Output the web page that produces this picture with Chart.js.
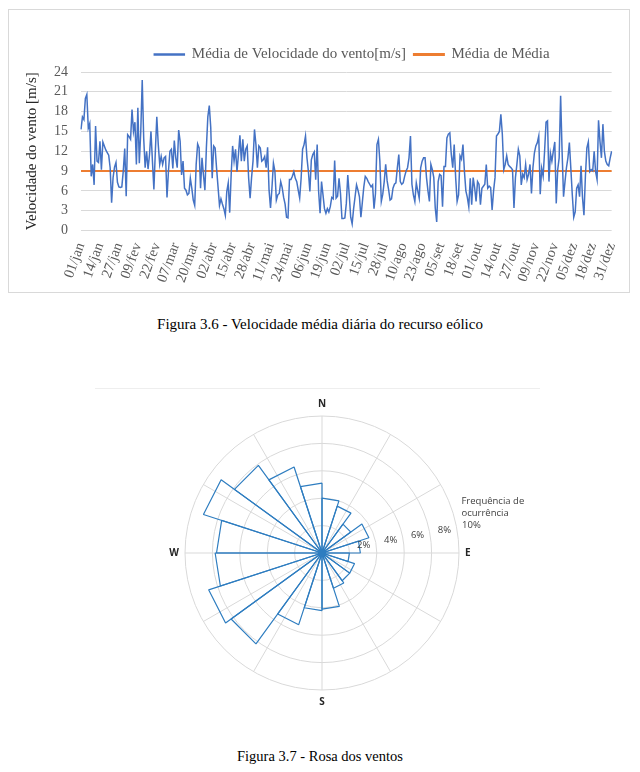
<!DOCTYPE html>
<html lang="pt">
<head>
<meta charset="utf-8">
<title>Recurso eólico</title>
<script src="https://cdn.jsdelivr.net/npm/chart.js@4.4.1/dist/chart.umd.min.js"></script>
<style>
  body { margin: 0; background: #fff; width: 640px; height: 772px; position: relative; overflow: hidden; }
  #caixa { position: absolute; left: 8px; top: 9px; width: 620px; height: 282px; border: 1px solid #d9d9d9; }
  #graficoVelocidade { position: absolute; left: 8px; top: 9px; }
  .legenda { position: absolute; left: 0; width: 640px; text-align: center; line-height: 16px;
             font-family: 'Liberation Serif', 'Times New Roman', serif; font-size: 14.5px; color: #000; }
  #linhaTopo { position: absolute; left: 95px; top: 388px; width: 445px; border-top: 1px solid #eeeeee; }
  #graficoRosa { position: absolute; left: 97px; top: 388px; }
</style>
</head>
<body>
<div id="caixa"></div>
<canvas id="graficoVelocidade" width="622" height="284"></canvas>
<div class="legenda" style="top:316px; font-size:15px">Figura 3.6 - Velocidade média diária do recurso eólico</div>
<div id="linhaTopo"></div>
<canvas id="graficoRosa" width="450" height="330"></canvas>
<div class="legenda" style="top:748px">Figura 3.7 - Rosa dos ventos</div>

<script>
// velocidade média diária [m/s], um array por mês
const velJan = [15.3,17.2,16.8,20.0,20.6,15.5,16.2,8.2,10.0,6.9,15.8,10.5,10.3,13.5,9.2,13.4,12.8,12.2,11.8,11.4,9.5,4.2,8.0,9.6,10.3,7.3,6.6,6.5,6.6,9.0,12.4];
const velFev = [5.2,14.5,14.2,13.8,18.3,15.0,16.4,10.0,18.6,10.2,15.0,22.8,14.0,9.5,12.0,9.3,11.5,15.0,10.5,6.2,12.0,17.2,13.0,10.0,11.2,10.0,11.0,11.2];
const velMar = [5.0,9.0,12.0,12.3,9.4,13.6,11.0,9.5,15.2,13.5,8.4,10.5,6.4,6.1,5.4,5.6,7.9,6.4,4.6,3.8,10.0,13.1,12.5,6.4,11.0,8.4,6.1,12.5,17.2,18.9,15.6];
const velAbr = [7.9,12.8,12.5,9.4,6.6,3.8,4.8,4.0,3.3,2.3,5.9,7.2,2.7,8.4,12.8,10.5,12.3,8.9,11.5,14.4,10.5,13.8,10.5,12.3,12.8,7.9,4.9,8.0,10.5,15.3];
const velMai = [13.0,9.5,12.8,12.5,10.5,10.7,11.2,9.5,12.6,6.1,3.4,6.5,10.2,9.0,4.6,5.4,5.6,7.4,6.5,5.0,4.0,2.0,1.9,7.7,7.7,8.2,8.9,7.9,7.4,6.1,4.9];
const velJun = [7.9,12.3,13.0,14.3,11.0,8.9,5.9,10.7,11.5,11.9,7.7,13.0,5.9,2.6,7.4,5.4,3.3,2.6,3.3,2.8,3.6,5.0,4.8,10.6,4.9,5.2,7.9,5.6,1.8,1.8];
const velJul = [1.9,4.1,8.4,5.4,2.0,1.0,3.3,5.1,6.9,6.1,5.1,2.0,4.3,6.6,8.2,7.9,7.4,7.0,6.6,6.9,3.3,5.6,13.0,13.8,10.5,4.4,5.5,7.4,10.0,7.5,6.2];
const velAgo = [4.6,4.8,6.4,7.0,7.2,9.5,11.5,7.4,7.0,7.2,8.2,9.0,9.5,11.0,14.3,7.0,5.4,4.4,7.2,6.0,4.9,9.5,10.5,11.0,11.0,8.0,6.0,4.4,10.0,9.2,8.0];
const velSet = [3.4,1.3,7.4,8.5,8.3,3.6,9.7,9.7,14.0,14.6,14.8,11.5,9.5,13.0,8.0,4.4,5.4,11.3,10.8,13.0,9.0,6.0,5.0,3.6,7.9,3.9,8.0,6.5,4.4,7.4];
const velOut = [7.0,3.9,6.4,6.7,7.0,10.0,6.4,6.7,6.5,3.1,6.0,8.0,14.3,14.6,15.0,17.6,14.6,9.2,10.0,11.3,10.0,9.7,9.5,9.2,3.4,8.0,10.0,12.3,11.3,6.9,8.5];
const velNov = [8.0,10.0,7.7,8.5,10.0,5.6,9.5,11.7,12.8,13.3,14.3,5.5,9.4,8.2,12.0,16.4,16.6,7.4,11.7,10.5,12.0,13.4,4.1,9.2,11.0,20.4,12.0,5.1,7.4,9.5];
const velDez = [11.0,13.3,9.4,5.4,2.0,2.8,6.4,6.9,5.1,9.8,5.0,2.3,8.2,12.5,13.4,8.9,9.2,9.0,12.0,8.9,7.7,16.7,13.5,11.0,16.1,12.0,10.5,10.0,9.8,11.0,12.0];

const meses = ['jan','fev','mar','abr','mai','jun','jul','ago','set','out','nov','dez'];
const mediaDeMedia = 9.0; // linha laranja
const passoRotulo = 13;   // um rótulo a cada 13 dias

// rosa dos ventos: frequência [%] por sector de 18°, a partir do N no sentido horário
const direcoes = ['N','','','','','E','','','','','S','','','','','W','','','',''];
const frequencia = [4.0,3.6,2.6,3.6,2.8,2.0,2.5,2.5,2.7,4.1,4.2,5.5,8.2,8.7,7.8,7.7,9.1,7.9,6.6,5.1];

const fonteSerif = "'Liberation Serif', 'Times New Roman', serif";
const corRosa = '#2e7dc0';

// monta os dias do ano e a série
const dias = [];
const velocidade = [];
[velJan, velFev, velMar, velAbr, velMai, velJun, velJul, velAgo, velSet, velOut, velNov, velDez].forEach((mes, m) => {
  mes.forEach((v, d) => {
    dias.push(String(d + 1).padStart(2, '0') + '/' + meses[m]);
    velocidade.push(v);
  });
});

// a legenda do Excel fica centrada sobre a área do gráfico
const deslocaLegenda = {
  id: 'deslocaLegenda',
  afterLayout(chart) {
    chart.legend.left += 36;
    chart.legend.right += 36;
  }
};

let graficoVelocidade = new Chart(document.getElementById('graficoVelocidade'), {
  type: 'line',
  data: {
    labels: dias,
    datasets: [{
      label: 'Média de Velocidade do vento[m/s]',
      data: velocidade,
      borderColor: '#4472c4',
      backgroundColor: '#4472c4',
      borderWidth: 1.5,
      pointRadius: 0,
      fill: false
    }, {
      label: 'Média de Média',
      data: dias.map(() => mediaDeMedia),
      borderColor: '#ed7d31',
      backgroundColor: '#ed7d31',
      borderWidth: 2,
      pointRadius: 0,
      fill: false
    }]
  },
  options: {
    responsive: false,
    animation: false,
    layout: { padding: { top: 30, right: 17, left: 11, bottom: 6 } },
    plugins: {
      legend: {
        labels: {
          boxWidth: 30,
          boxHeight: 1,
          padding: 8,
          color: '#595959',
          font: { family: fonteSerif, size: 15 }
        }
      },
      tooltip: { enabled: false }
    },
    scales: {
      x: {
        grid: { display: false },
        border: { display: false },
        ticks: {
          autoSkip: false,
          minRotation: 70,
          maxRotation: 70,
          padding: 2,
          color: '#595959',
          font: { family: fonteSerif, size: 14.5 },
          callback: (v, i) => i % passoRotulo === 0 ? dias[i] : null
        }
      },
      y: {
        min: 0,
        max: 24,
        ticks: { stepSize: 3, padding: 13, color: '#595959', font: { family: fonteSerif, size: 14 } },
        grid: { color: '#d9d9d9', drawTicks: false },
        border: { display: false },
        title: {
          display: true,
          text: 'Velocidade do vento [m/s]',
          color: '#262626',
          padding: { top: 4, bottom: 0 },
          font: { family: fonteSerif, size: 15 }
        }
      }
    }
  },
  plugins: [deslocaLegenda]
});

// raios de 30° e rótulos de frequência da rosa
const grausRotulo = 79.5;
const rosaGrade = {
  id: 'rosaGrade',
  beforeDatasetsDraw(chart) {
    const r = chart.scales.r, ctx = chart.ctx;
    ctx.save();
    ctx.strokeStyle = '#d9d9d9';
    ctx.lineWidth = 1;
    for (let k = 0; k < 12; k++) {
      const a = (k * 30 - 90) * Math.PI / 180;
      ctx.beginPath();
      ctx.moveTo(r.xCenter, r.yCenter);
      ctx.lineTo(r.xCenter + r.drawingArea * Math.cos(a), r.yCenter + r.drawingArea * Math.sin(a));
      ctx.stroke();
    }
    ctx.restore();
  },
  afterDatasetsDraw(chart) {
    const r = chart.scales.r, ctx = chart.ctx;
    const a = grausRotulo * Math.PI / 180;
    ctx.save();
    ctx.fillStyle = '#404040';
    ctx.font = '9.5px "Open Sans"';
    ctx.textBaseline = 'middle';
    r.ticks.forEach(t => {
      if (t.value <= 0) return;
      const d = r.getDistanceFromCenterForValue(t.value) + 15;
      const x = r.xCenter + d * Math.sin(a);
      const y = r.yCenter - d * Math.cos(a);
      ctx.textAlign = 'center';
      ctx.fillText(t.value + '%', x, y);
      if (t.value === r.max) {
        ctx.textAlign = 'left';
        ctx.fillText('Frequência de', x - 10, y - 24);
        ctx.fillText('ocurrência', x - 10, y - 12);
      }
    });
    ctx.fillStyle = corRosa;
    ctx.beginPath();
    ctx.arc(r.xCenter, r.yCenter, 3.5, 0, Math.PI * 2);
    ctx.fill();
    ctx.restore();
  }
};

let graficoRosa = new Chart(document.getElementById('graficoRosa'), {
  type: 'polarArea',
  data: {
    labels: direcoes,
    datasets: [{
      data: frequencia,
      backgroundColor: 'rgba(0,0,0,0)',
      borderColor: corRosa,
      borderWidth: 1.2,
      circular: false
    }]
  },
  options: {
    responsive: false,
    animation: false,
    layout: { padding: 10 },
    plugins: { legend: { display: false }, tooltip: { enabled: false } },
    scales: {
      r: {
        min: 0,
        max: 10,
        ticks: { stepSize: 2, display: false },
        grid: { color: '#d9d9d9', circular: true },
        angleLines: { display: false },
        pointLabels: {
          display: true,
          centerPointLabels: false,
          padding: 6,
          color: '#262626',
          font: { family: 'Open Sans', size: 10, weight: 'bold' }
        }
      }
    }
  },
  plugins: [rosaGrade]
});
</script>
</body>
</html>
